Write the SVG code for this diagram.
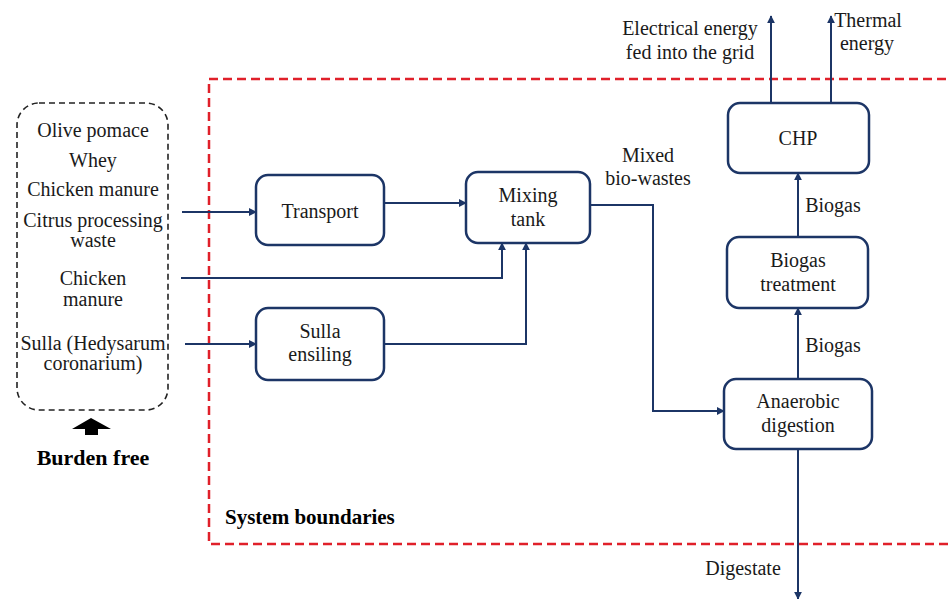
<svg xmlns="http://www.w3.org/2000/svg" width="951" height="599" viewBox="0 0 951 599">
<defs>
<style>
text{font-family:"Liberation Serif","Times New Roman",serif;font-size:20px;fill:#1a1a1a;text-anchor:middle}
.b{font-weight:bold;fill:#000}
.box{fill:#fff;stroke:#1c3566;stroke-width:2.5}
.ln{fill:none;stroke:#1c3566;stroke-width:2;marker-end:url(#ah)}
</style>
<marker id="ah" viewBox="0 0 10 10" refX="9" refY="5" markerWidth="4" markerHeight="4" orient="auto" markerUnits="strokeWidth">
<path d="M0,0 L10,5 L0,10 z" fill="#1c3566"/>
</marker>
</defs>
<rect width="951" height="599" fill="#fff"/>
<g id="boundary">
<path d="M960,79 H209 V544 H960" fill="none" stroke="#e0202a" stroke-width="2.5" stroke-dasharray="9,5"/>
<text class="b" x="225" y="524" style="text-anchor:start;font-size:21px">System boundaries</text>
</g>
<g id="inputs">
<rect x="17" y="103" width="151" height="307" rx="22" fill="none" stroke="#222" stroke-width="1.6" stroke-dasharray="6,4"/>
<text x="93" y="137">Olive pomace</text>
<text x="93" y="167">Whey</text>
<text x="93" y="196">Chicken manure</text>
<text x="93" y="227">Citrus processing</text>
<text x="93" y="247">waste</text>
<text x="93" y="285">Chicken</text>
<text x="93" y="306">manure</text>
<text x="93" y="350">Sulla (Hedysarum</text>
<text x="93" y="370">coronarium)</text>
</g>
<g id="burden">
<path d="M91,418 L111,429 L98,429 L98,435 L85,435 L85,429 L72,429 Z" fill="#000"/>
<text class="b" x="93" y="465" style="font-size:22px">Burden free</text>
</g>
<g id="transport">
<rect class="box" x="256" y="175" width="128" height="70" rx="12"/>
<text x="320" y="218">Transport</text>
</g>
<g id="sulla">
<rect class="box" x="256" y="308" width="128" height="72" rx="12"/>
<text x="320" y="338">Sulla</text>
<text x="320" y="361">ensiling</text>
</g>
<g id="mixing">
<rect class="box" x="466" y="172" width="124" height="71" rx="12"/>
<text x="528" y="202">Mixing</text>
<text x="528" y="226">tank</text>
</g>
<g id="ad">
<rect class="box" x="724" y="379" width="148" height="70" rx="12"/>
<text x="798" y="408">Anaerobic</text>
<text x="798" y="432">digestion</text>
</g>
<g id="treatment">
<rect class="box" x="727" y="237" width="141" height="71" rx="12"/>
<text x="798" y="267">Biogas</text>
<text x="798" y="291">treatment</text>
</g>
<g id="chp">
<rect class="box" x="728" y="103" width="141" height="70" rx="12"/>
<text x="798" y="145">CHP</text>
</g>
<g id="connectors">
<path class="ln" d="M182,212 H256"/>
<path class="ln" d="M181,278 H502 V243"/>
<path class="ln" d="M185,344 H256"/>
<path class="ln" d="M384,344 H526 V243"/>
<path class="ln" d="M384,203 H466"/>
<path class="ln" d="M590,205 H653 V411 H724"/>
<path class="ln" d="M798,379 V308"/>
<path class="ln" d="M798,237 V173"/>
<path class="ln" d="M771,103 V16"/>
<path class="ln" d="M831,103 V16"/>
<path class="ln" d="M798,449 V599"/>
</g>
<g id="labels">
<text x="648" y="162">Mixed</text>
<text x="648" y="185">bio-wastes</text>
<text x="833" y="212">Biogas</text>
<text x="833" y="352">Biogas</text>
<text x="743" y="575">Digestate</text>
<text x="690" y="35">Electrical energy</text>
<text x="690" y="59">fed into the grid</text>
<text x="868" y="27">Thermal</text>
<text x="867" y="50">energy</text>
</g>
</svg>
